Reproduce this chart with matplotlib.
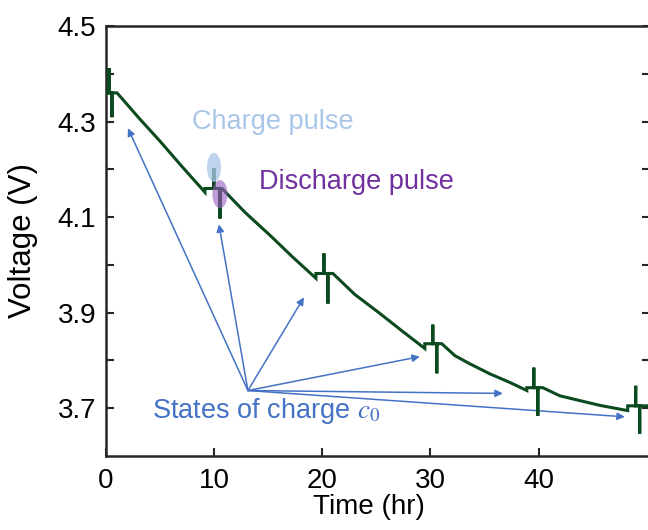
import matplotlib
matplotlib.use("Agg")
import matplotlib.pyplot as plt
from matplotlib.patches import Ellipse

# voltage trace (hr, V): discharge with pulses every ~10 hr
time_hr = [0.1, 0.28, 0.28, 0.28, 0.55, 0.55, 0.55, 1.02,
           3.14, 4.99, 7.02, 9.15, 9.15, 9.98, 9.98, 9.98, 10.54, 10.54, 10.54, 10.72,
           12.85, 15.16, 17.28, 19.41, 19.41, 20.15, 20.15, 20.15, 20.52, 20.52, 20.52, 20.98,
           23.01, 25.23, 27.36, 29.48, 29.48, 30.22, 30.22, 30.22, 30.59, 30.59, 30.59, 31.05,
           32.26, 33.64, 35.49, 37.34, 38.91, 38.91, 39.56, 39.56, 39.56, 39.93, 39.93, 39.93, 40.39,
           41.96, 43.81, 45.66, 48.24, 48.24, 48.98, 48.98, 48.98, 49.35, 49.35, 49.35, 50.6]
voltage_v = [4.36, 4.36, 4.412, 4.36, 4.36, 4.309, 4.36, 4.36,
             4.305, 4.259, 4.206, 4.152, 4.160, 4.160, 4.202, 4.160, 4.160, 4.097, 4.160, 4.160,
             4.110, 4.062, 4.016, 3.972, 3.982, 3.982, 4.024, 3.982, 3.982, 3.919, 3.982, 3.982,
             3.938, 3.900, 3.862, 3.825, 3.835, 3.835, 3.875, 3.835, 3.835, 3.773, 3.835, 3.835,
             3.810, 3.793, 3.772, 3.754, 3.737, 3.743, 3.743, 3.785, 3.743, 3.743, 3.684, 3.743, 3.743,
             3.726, 3.716, 3.706, 3.695, 3.705, 3.705, 3.747, 3.705, 3.705, 3.647, 3.705, 3.705]

# highlighted pulses (center t, center V)
charge_mark = (9.98, 4.204)
discharge_mark = (10.54, 4.148)

# arrows from the "States of charge" label to each rest point
arrow_origin = (13.12, 3.737)
arrow_t = [2.03, 10.44, 18.30, 29.02, 36.69, 47.97]
arrow_v = [4.286, 4.085, 3.932, 3.808, 3.731, 3.682]

x_ticks = [0, 10, 20, 30, 40]
y_ticks = [3.7, 3.9, 4.1, 4.3, 4.5]
y_minor = [3.8, 4.0, 4.2, 4.4]

green = "#0b4a1e"
arrow_blue = "#4472c4"
light_blue = "#a9c6e8"
purple = "#7030a0"

plt.rcParams["font.family"] = ["Liberation Sans", "DejaVu Sans"]
plt.rcParams["mathtext.fontset"] = "stix"

fig = plt.figure(figsize=(6.48, 5.30), dpi=100)
# right spine sits just past the picture edge, as in the cropped original
ax = fig.add_axes([106 / 648, 74 / 530, 544 / 648, 430 / 530])

ax.plot(time_hr, voltage_v, color=green, lw=2.2, solid_joinstyle="miter", zorder=3)

ax.add_patch(Ellipse(charge_mark, 1.3, 0.061, facecolor=light_blue, alpha=0.75,
                     edgecolor="none", zorder=4))
ax.add_patch(Ellipse(discharge_mark, 1.4, 0.059, facecolor="#9a5cc0", alpha=0.6,
                     edgecolor="none", zorder=4))

for t, v in zip(arrow_t, arrow_v):
    ax.annotate("", xy=(t, v), xytext=arrow_origin,
                arrowprops=dict(arrowstyle="-|>", color=arrow_blue, lw=1.1,
                                mutation_scale=11, shrinkA=0, shrinkB=0),
                zorder=2)

ax.text(15.43, 4.299, "Charge pulse", color=light_blue, fontsize=19.5,
        ha="center", va="center")
ax.text(23.2, 4.173, "Discharge pulse", color=purple, fontsize=19.5,
        ha="center", va="center")
ax.text(4.25, 3.695, "States of charge $c_0$", color=arrow_blue, fontsize=19.5,
        ha="left", va="center")

ax.set_xlim(0, 50.3)
ax.set_ylim(3.6, 4.5)
ax.set_xticks(x_ticks)
ax.set_yticks(y_ticks)
ax.set_yticks(y_minor, minor=True)
ax.tick_params(which="both", direction="in", length=6, width=1.5,
               labelsize=20, right=True, top=False, color="#262626")
ax.tick_params(axis="x", pad=9)
ax.tick_params(axis="y", pad=7)
for s in ax.spines.values():
    s.set_linewidth(1.8)
    s.set_color("#262626")

ax.set_xlabel("Time (hr)", fontsize=20)
ax.set_ylabel("Voltage (V)", fontsize=22.5)
ax.xaxis.set_label_coords((369 - 106) / 544, -38 / 430)
ax.yaxis.set_label_coords(-68 / 544, 0.5)

fig.savefig("out.png", dpi=100)
